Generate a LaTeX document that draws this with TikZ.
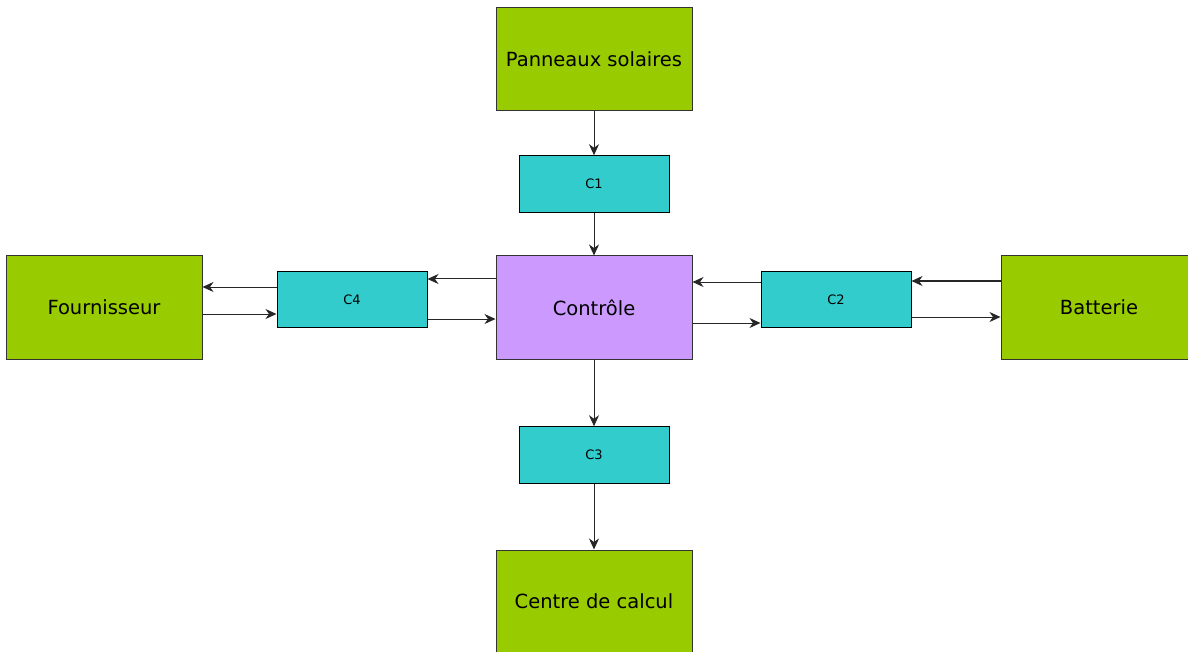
\documentclass[tikz,border=0pt]{standalone}
\usepackage{fontspec}
\setmainfont{DejaVu Sans}
\usetikzlibrary{arrows.meta}
\definecolor{vert}{HTML}{99CC00}
\definecolor{cyanb}{HTML}{33CCCC}
\definecolor{violet}{HTML}{CC99FF}
\definecolor{bord}{HTML}{333333}
\tikzset{
  bigbox/.style={draw=bord, line width=1pt, fill=vert, minimum width=196pt, minimum height=103pt, inner sep=0pt, font=\fontsize{19.5}{23}\selectfont},
  ctrlbox/.style={bigbox, fill=violet},
  convbox/.style={draw=black, line width=1pt, fill=cyanb, minimum width=150pt, minimum height=56.5pt, inner sep=0pt, font=\fontsize{13}{15}\selectfont},
  arr/.style={draw=black!85, line width=1pt, -{Stealth[length=11pt,width=10pt,inset=3.5pt]}}
}
\begin{document}
\begin{tikzpicture}[x=1pt,y=-1pt]
\useasboundingbox (0,0) rectangle (1188,652);
\node[bigbox] (P) at (594,59.5) {Panneaux solaires};
\node[convbox] (C1) at (594,184) {C1};
\node[ctrlbox] (K) at (594,307.5) {Contrôle};
\node[convbox] (C3) at (594,455) {C3};
\node[bigbox] (CC) at (594,601.5) {Centre de calcul};
\node[bigbox] (F) at (104,307.5) {Fournisseur};
\node[convbox] (C4) at (352,299.5) {C4};
\node[convbox] (C2) at (836,299.5) {C2};
\node[bigbox] (B) at (1099,307.5) {Batterie};
% vertical
\draw[arr] (P) -- (C1);
\draw[arr] (C1) -- (K);
\draw[arr] (K) -- (C3);
\draw[arr] (C3) -- (CC);
% left side
\path ([yshift=12.5pt]C4.west) coordinate (a1);
\draw[arr] (a1) -- (a1 -| F.east);
\path ([yshift=-6.5pt]F.east) coordinate (a2);
\draw[arr] (a2) -- (a2 -| C4.west);
\path ([yshift=28.5pt]K.west) coordinate (a3);
\draw[arr] (a3) -- (a3 -| C4.east);
\path ([yshift=-19.5pt]C4.east) coordinate (a4);
\draw[arr] (a4) -- (a4 -| K.west);
% right side
\path ([yshift=17.5pt]C2.west) coordinate (b1);
\draw[arr] (b1) -- (b1 -| K.east);
\path ([yshift=-15.5pt]K.east) coordinate (b2);
\draw[arr] (b2) -- (b2 -| C2.west);
\path ([yshift=26.5pt]B.west) coordinate (b3);
\draw[arr] (b3) -- (b3 -| C2.east);
\path ([yshift=-17.5pt]C2.east) coordinate (b4);
\draw[arr] (b4) -- (b4 -| B.west);
\end{tikzpicture}
\end{document}
